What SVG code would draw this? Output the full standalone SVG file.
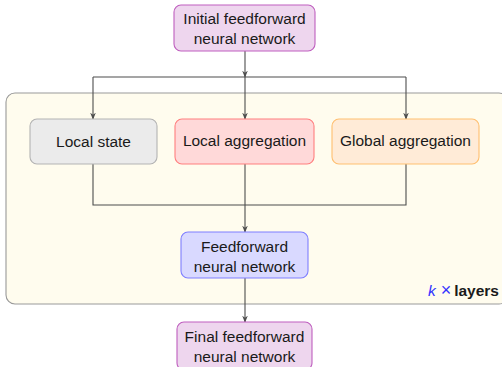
<svg xmlns="http://www.w3.org/2000/svg" width="502" height="367" viewBox="0 0 502 367">
<style>
text{font-family:"Liberation Sans",Arial,sans-serif;font-size:15.5px;fill:#1a1a1a;text-anchor:middle}
text.k{fill:#3333ff}
.c{fill:none;stroke:#4d4d4d;stroke-width:1.1}
.purple{fill:#eed6ee;stroke:#bf5fbf}
.gray{fill:#ebebeb;stroke:#b3b3b3}
.red{fill:#ffd9d9;stroke:#ff7f7f}
.orange{fill:#ffebd7;stroke:#ffbf70}
.blue{fill:#d9d9ff;stroke:#7f7fff}
rect{stroke-width:1.1}
</style>
<defs>
<marker id="a" viewBox="0 0 10 10" refX="9" refY="5" markerWidth="7" markerHeight="7" orient="auto" markerUnits="userSpaceOnUse">
<path d="M0,1 L10,5 L0,9 L3,5 Z" fill="#4d4d4d"/>
</marker>
</defs>
<g id="layers">
<rect x="6" y="93" width="502" height="211" rx="9" fill="#fffcee" stroke="#999999"/>
<text class="k" x="428" y="296" style="text-anchor:start;font-style:italic">k</text>
<text class="k" x="446" y="296" style="font-size:18px">×</text>
<text x="499" y="296" style="text-anchor:end;font-weight:bold">layers</text>
</g>
<g id="connectors">
<path class="c" d="M245,51 V77" marker-end="url(#a)"/>
<path class="c" d="M93,77 H406"/>
<path class="c" d="M93,77 V119" marker-end="url(#a)"/>
<path class="c" d="M245,77 V119" marker-end="url(#a)"/>
<path class="c" d="M406,77 V119" marker-end="url(#a)"/>
<path class="c" d="M93,164 V205 H406 V164"/>
<path class="c" d="M245,164 V205"/>
<path class="c" d="M245,205 V232" marker-end="url(#a)"/>
<path class="c" d="M245,278 V322" marker-end="url(#a)"/>
</g>
<g id="initial">
<rect class="purple" x="174" y="5" width="141" height="46" rx="7"/>
<text x="244.5" y="24">Initial feedforward</text>
<text x="244.5" y="44">neural network</text>
</g>
<g id="localstate">
<rect class="gray" x="30" y="119" width="127" height="45" rx="7"/>
<text x="93.5" y="147">Local state</text>
</g>
<g id="localagg">
<rect class="red" x="175" y="119" width="139" height="45" rx="7"/>
<text x="244.5" y="146">Local aggregation</text>
</g>
<g id="globalagg">
<rect class="orange" x="332" y="119" width="147" height="45" rx="7"/>
<text x="405.5" y="146">Global aggregation</text>
</g>
<g id="ffn">
<rect class="blue" x="181" y="232" width="127" height="46" rx="7"/>
<text x="244.5" y="252">Feedforward</text>
<text x="244.5" y="272">neural network</text>
</g>
<g id="final">
<rect class="purple" x="177" y="322" width="135" height="48" rx="7"/>
<text x="244.5" y="342">Final feedforward</text>
<text x="244.5" y="362">neural network</text>
</g>
</svg>
